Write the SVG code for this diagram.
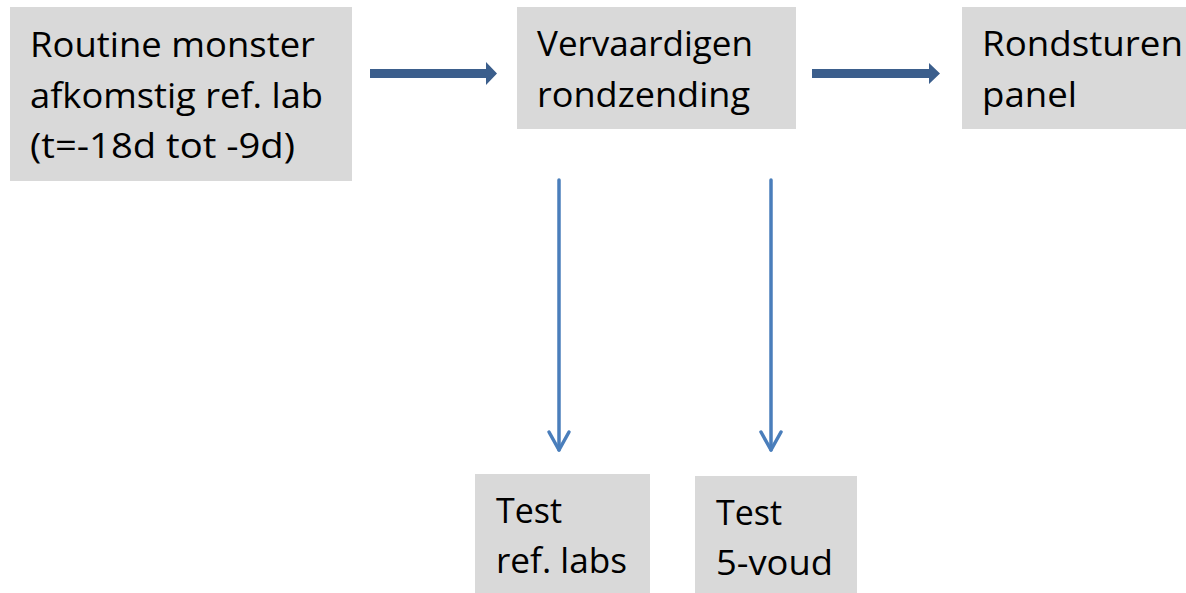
<svg xmlns="http://www.w3.org/2000/svg" width="1186" height="593" viewBox="0 0 1186 593">
<style>
.box{fill:#D9D9D9;}
.t{font-family:"Open Sans","Noto Sans",sans-serif;font-size:35px;fill:#000;}
.thick{fill:#3B5E8C;}
.thin{fill:none;stroke:#4A7EBB;stroke-width:3.5;stroke-linecap:round;stroke-linejoin:round;}
</style>
<rect width="1186" height="593" fill="#fff"/>
<g id="node-routine">
<rect class="box" x="10" y="7" width="342" height="174"/>
<text class="t"><tspan x="30" y="57" textLength="285" lengthAdjust="spacingAndGlyphs">Routine monster</tspan><tspan x="30" y="108" textLength="293" lengthAdjust="spacingAndGlyphs">afkomstig ref. lab</tspan><tspan x="30" y="158" textLength="265" lengthAdjust="spacingAndGlyphs">(t=-18d tot -9d)</tspan></text>
</g>
<g id="node-vervaardigen">
<rect class="box" x="517" y="7" width="279" height="122"/>
<text class="t"><tspan x="537" y="56" textLength="216" lengthAdjust="spacingAndGlyphs">Vervaardigen</tspan><tspan x="537" y="107" textLength="213" lengthAdjust="spacingAndGlyphs">rondzending</tspan></text>
</g>
<g id="node-rondsturen">
<rect class="box" x="962" y="7" width="224" height="122"/>
<text class="t"><tspan x="982" y="56" textLength="201" lengthAdjust="spacingAndGlyphs">Rondsturen</tspan><tspan x="982" y="107" textLength="95" lengthAdjust="spacingAndGlyphs">panel</tspan></text>
</g>
<g id="node-test-ref">
<rect class="box" x="475" y="474" width="175" height="119"/>
<text class="t"><tspan x="496" y="523" textLength="66" lengthAdjust="spacingAndGlyphs">Test</tspan><tspan x="496" y="573" textLength="131" lengthAdjust="spacingAndGlyphs">ref. labs</tspan></text>
</g>
<g id="node-test-5voud">
<rect class="box" x="695" y="476" width="162" height="117"/>
<text class="t"><tspan x="716" y="525" textLength="66" lengthAdjust="spacingAndGlyphs">Test</tspan><tspan x="716" y="575" textLength="117" lengthAdjust="spacingAndGlyphs">5-voud</tspan></text>
</g>
<g id="connectors">
<polygon class="thick" points="370,69 486,69 486,62 497,73.5 486,85 486,78 370,78"/>
<polygon class="thick" points="812,69 929,69 929,63 940,73.5 929,84 929,78 812,78"/>
<line class="thin" x1="559" y1="180" x2="559" y2="450"/>
<polyline class="thin" points="549,432 559,450 569,432"/>
<line class="thin" x1="771" y1="180" x2="771" y2="450"/>
<polyline class="thin" points="761,432 771,450 781,432"/>
</g>
</svg>
